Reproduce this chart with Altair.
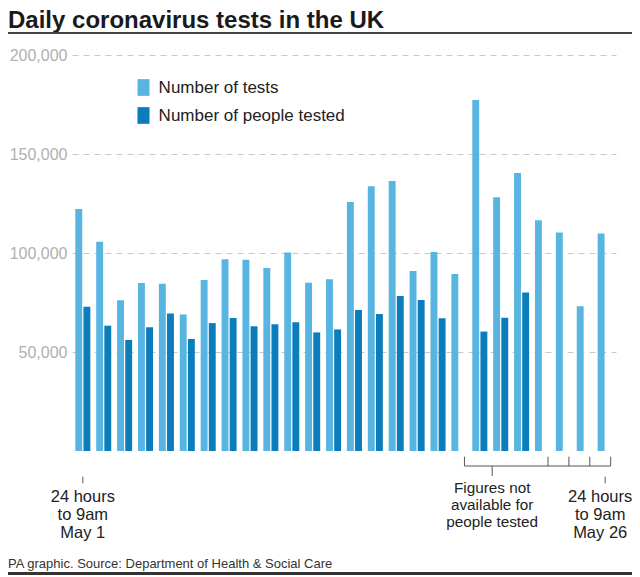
import altair as alt
import pandas as pd

# ---- data ----
days = list(range(1, 27))
tests = [122200, 105700, 76100, 84800, 84500, 69000, 86400, 96800, 96600, 92400,
         100300, 85000, 86700, 125800, 133700, 136400, 90900, 100500, 89400, 177300,
         128100, 140400, 116500, 110300, 73100, 109900]
people = [72900, 63300, 56100, 62500, 69400, 56600, 64600, 67200, 63000, 64000,
          65000, 59900, 61400, 71200, 69200, 78300, 76300, 67000, None, 60300,
          67300, 80000, None, None, None, None]
series_names = ["Number of tests", "Number of people tested"]
series_colors = ["#58b5e1", "#0b7dbb"]
y_ticks = [50000, 100000, 150000, 200000]

FONT = "Liberation Sans"

rows = []
for d, t, p in zip(days, tests, people):
    rows.append({"day": d, "series": series_names[0], "value": t})
    if p is not None:
        rows.append({"day": d, "series": series_names[1], "value": p})
df = pd.DataFrame(rows)

W, H = 554, 396

xscale = alt.Scale(range=[0, 544], paddingInner=0.28, paddingOuter=0.158)

bars = alt.Chart(df).mark_bar().encode(
    x=alt.X("day:O", axis=None, scale=xscale),
    xOffset=alt.XOffset("series:N", sort=series_names,
                        scale=alt.Scale(paddingInner=0.15, paddingOuter=0)),
    y=alt.Y("value:Q", scale=alt.Scale(domain=[0, 200000]),
            axis=alt.Axis(values=y_ticks, format=",.0f", grid=True, gridDash=[6, 5],
                          gridColor="#c8c8c8", gridWidth=1, domain=False, ticks=False,
                          labelPadding=5, labelFontSize=16, labelColor="#b0b0b0",
                          labelFont=FONT, title=None)),
    color=alt.Color("series:N",
                    scale=alt.Scale(domain=series_names, range=series_colors),
                    legend=alt.Legend(orient="none", legendX=63, legendY=24, title=None,
                                      symbolType="M-0.72,-1H0.72V1H-0.72Z",
                                      symbolSize=279, symbolStrokeWidth=0,
                                      labelFontSize=17, labelOffset=6.6,
                                      rowPadding=10, padding=0, labelColor="#222222",
                                      labelFont=FONT, labelLimit=400)),
)

# end-of-range ticks under the first and last day
end_df = pd.DataFrame({"day": [1, 26],
                       "label": ["24 hours\nto 9am\nMay 1", "24 hours\nto 9am\nMay 26"]})
end_ticks = alt.Chart(end_df).mark_rule(color="#555555", strokeWidth=1).encode(
    x=alt.X("day:O", scale=xscale),
    y=alt.value(421.7), y2=alt.value(428.3),
)
end_label1 = alt.Chart(end_df[end_df.day == 1]).mark_text(
    lineBreak="\n", lineHeight=18, fontSize=16.5, font=FONT, color="#222222",
    align="center", baseline="alphabetic").encode(
    x=alt.X("day:O", scale=xscale), y=alt.value(447), text="label:N")
end_label2 = alt.Chart(end_df[end_df.day == 26]).mark_text(
    lineBreak="\n", lineHeight=18, fontSize=16.5, font=FONT, color="#222222",
    align="center", baseline="alphabetic", dx=-5).encode(
    x=alt.X("day:O", scale=xscale), y=alt.value(447), text="label:N")

# bracket for "figures not available"
br_days = pd.DataFrame({"day": [19, 23, 24, 25, 26]})
br_ticks = alt.Chart(br_days).mark_rule(color="#555555", strokeWidth=1, xOffset=-2).encode(
    x=alt.X("day:O", scale=xscale, bandPosition=1),
    y=alt.value(401.7), y2=alt.value(411),
)
br_line_df = pd.DataFrame({"day": [19, 26]})
br_line = alt.Chart(br_line_df).mark_line(color="#555555", strokeWidth=1, xOffset=-2).encode(
    x=alt.X("day:O", scale=xscale, bandPosition=1),
    y=alt.value(411),
)
br_center = alt.Chart(pd.DataFrame({"day": [21], "label": ["Figures not\navailable for\npeople tested"]}))
br_center_tick = br_center.mark_rule(color="#555555", strokeWidth=1, xOffset=-1).encode(
    x=alt.X("day:O", scale=xscale, bandPosition=0),
    y=alt.value(411), y2=alt.value(421),
)
br_center_text = br_center.mark_text(
    lineBreak="\n", lineHeight=17, fontSize=15.3, font=FONT, color="#222222",
    align="center", baseline="alphabetic", dx=-1).encode(
    x=alt.X("day:O", scale=xscale, bandPosition=0),
    y=alt.value(438.3), text="label:N")

# title, footer and rules
title = alt.Chart(pd.DataFrame({"t": ["Daily coronavirus tests in the UK"]})).mark_text(
    fontSize=24, fontWeight="bold", font=FONT, color="#1a1a1a",
    align="left", baseline="alphabetic").encode(
    x=alt.value(-64), y=alt.value(-27.5), text="t:N")
title_rule = alt.Chart(pd.DataFrame({"a": [0]})).mark_rule(color="#444444", strokeWidth=2).encode(
    x=alt.value(-64), x2=alt.value(560), y=alt.value(-22))
footer = alt.Chart(pd.DataFrame({"t": ["PA graphic. Source: Department of Health & Social Care"]})).mark_text(
    fontSize=13, font=FONT, color="#333333", align="left", baseline="alphabetic").encode(
    x=alt.value(-64), y=alt.value(512.5), text="t:N")
bottom_rule = alt.Chart(pd.DataFrame({"a": [0]})).mark_rule(color="#333333", strokeWidth=3).encode(
    x=alt.value(-64), x2=alt.value(560), y=alt.value(518.5))

chart = alt.layer(
    bars, end_ticks, end_label1, end_label2, br_ticks, br_line, br_center_tick,
    br_center_text, title, title_rule, footer, bottom_rule
).properties(
    width=W, height=H,
    autosize=alt.AutoSizeParams(type="none"),
    padding={"left": 64, "top": 47, "right": 6, "bottom": 126},
).configure(font=FONT).configure_view(stroke=None)

chart.save("out.html", embed_options={"renderer": "svg", "actions": False})
